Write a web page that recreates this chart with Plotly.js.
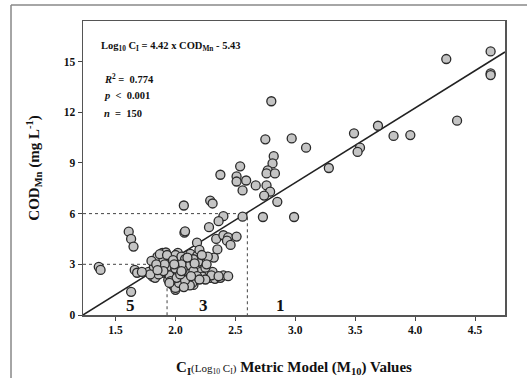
<!DOCTYPE html>
<html>
<head>
<meta charset="utf-8">
<script src="https://cdn.plot.ly/plotly-3.0.1.min.js"></script>
<style>
html,body{margin:0;padding:0;background:#fff;}
#chart{width:527px;height:378px;}
</style>
</head>
<body>
<div id="chart"></div>
<script>
// Observations: CI (Log10 CI) metric model values vs CODMn
const xVals = [
  4.63,4.26,4.63,4.63,4.35,3.69,3.49,3.82,3.96,3.54,3.52,3.28,2.80,2.75,2.97,3.09,2.82,2.81,2.77,2.76,
  2.83,2.67,2.76,2.79,2.74,2.85,2.73,2.99,2.54,2.51,2.51,2.59,2.56,2.375,2.29,2.31,2.07,2.56,2.40,2.36,
  2.28,2.075,2.08,1.61,1.63,1.65,2.18,2.34,2.40,2.44,2.51,2.43,2.46,2.35,2.32,1.36,1.375,1.66,1.68,1.63,
  1.775,1.81,1.85,1.89,1.92,1.82,1.875,1.89,1.83,1.94,1.975,2.0,2.02,2.04,1.975,2.04,2.1,2.09,2.125,2.18,
  2.23,2.19,2.07,1.98,2.11,2.21,2.31,2.225,2.29,2.33,2.375,2.025,2.15,2.14,2.0,2.03,
  1.9,1.95,1.88,1.93,1.97,2.0,2.05,2.08,2.12,2.15,2.0,1.95,2.06,2.1,1.86,1.79,1.72,1.8,1.87,1.93,
  2.02,2.06,2.15,2.25,2.27,2.2,2.26,2.3,2.4,2.44,1.96,2.01,2.12,2.18,1.91,1.84,1.98,2.05,2.1,2.16,
  2.22,1.9,2.0,2.08,1.95,2.25,2.36,2.2,1.85,2.13,1.99,2.04,2.07,2.05
];
const yVals = [
  15.6,15.15,14.3,14.2,11.5,11.2,10.75,10.6,10.65,9.9,9.65,8.7,12.65,10.4,10.45,9.9,9.4,8.97,8.56,8.38,
  8.38,7.67,7.67,7.3,7.07,6.7,5.8,5.8,8.8,8.2,7.9,7.96,7.37,8.3,6.77,6.6,6.48,5.82,5.85,5.55,
  5.2,4.87,4.95,4.93,4.5,4.05,4.28,4.5,4.72,4.6,4.64,4.4,4.15,3.88,3.4,2.85,2.67,2.67,2.5,1.37,
  2.55,2.27,3.45,3.68,3.7,2.86,2.97,2.5,2.2,2.08,1.78,1.49,3.68,3.15,2.55,1.96,3.09,2.55,3.62,3.5,
  3.15,3.15,2.8,2.67,2.43,2.55,2.55,2.27,2.2,2.14,2.2,2.08,1.78,1.9,1.6,1.9,
  3.3,3.1,2.75,2.85,3.4,3.55,3.45,3.3,2.95,3.3,2.9,2.35,2.25,2.1,2.4,2.4,2.55,3.2,3.6,3.55,
  2.5,2.7,2.6,2.8,3.45,3.85,3.0,2.35,2.35,2.3,2.0,2.2,1.75,2.3,3.0,3.0,3.25,3.0,3.4,3.05,
  3.55,2.6,2.75,2.05,1.9,2.1,2.3,2.1,2.65,2.3,3.0,2.4,1.65,2.6
];
// Regression: y = 4.42 x - 5.43
const slope = 4.42;
const intercept = -5.43;
const xMax = 4.75;
// Category thresholds (dotted guides)
const thresholdX = [1.93, 2.6];
const thresholdY = [3, 6];
// Class labels at the bottom
const classLabels = ['5', '3', '1'];
const classLabelX = [1.625, 2.23, 2.875];
const classLabelY = [0.55, 0.55, 0.55];
const xTicks = [1.5, 2.0, 2.5, 3.0, 3.5, 4.0, 4.5];
const yTicks = [0, 3, 6, 9, 12, 15];

const xMin = -intercept / slope;
const lineX = [xMin, xMax];
const lineY = lineX.map(v => slope * v + intercept);

const SERIF = '"Liberation Serif", "Times New Roman", serif';
const traces = [];
// dotted guides
thresholdX.forEach((tx, i) => {
  traces.push({x: [xMin, tx, tx], y: [thresholdY[i], thresholdY[i], 0], mode: 'lines',
    line: {color: '#444', width: 1, dash: 'dot'}, hoverinfo: 'skip', showlegend: false});
});
traces.push({x: lineX, y: lineY, mode: 'lines', line: {color: '#222', width: 1.5},
  hoverinfo: 'skip', showlegend: false});
traces.push({x: xVals, y: yVals, mode: 'markers', showlegend: false,
  marker: {size: 9, color: '#c4c4c4', line: {color: '#2a2a2a', width: 1.3}}});

const annotations = [
  {text: '<b>Log<sub>10</sub> C<sub>I</sub> = 4.42 x COD<sub>Mn</sub> - 5.43</b>', x: 0.038, y: 0.912},
  {text: '<b><i>R</i><sup>2</sup> =  0.774</b>', x: 0.045, y: 0.806},
  {text: '<b><i>p</i>  &lt;  0.001</b>', x: 0.045, y: 0.748},
  {text: '<b><i>n</i>  =  150</b>', x: 0.045, y: 0.687}
].map(a => Object.assign({xref: 'paper', yref: 'paper', xanchor: 'left', yanchor: 'middle',
  showarrow: false, font: {family: SERIF, size: 10.5, color: '#111'}}, a));
classLabels.forEach((t, i) => annotations.push({text: '<b>' + t + '</b>', x: classLabelX[i], y: classLabelY[i],
  xref: 'x', yref: 'y', showarrow: false, yanchor: 'middle',
  font: {family: SERIF, size: 17, color: '#111'}}));

const layout = {
  width: 527, height: 378,
  margin: {l: 83, r: 22, t: 21, b: 63},
  paper_bgcolor: '#fff', plot_bgcolor: '#fff',
  font: {family: SERIF, color: '#111'},
  xaxis: {range: [xMin, xMax], tickvals: xTicks, ticktext: xTicks.map(v => '<b>' + v.toFixed(1) + '</b>'),
    ticks: 'outside', ticklen: 4, tickcolor: '#444', showgrid: false, zeroline: false,
    showline: true, mirror: true, linecolor: '#555', linewidth: 1.5,
    tickfont: {family: SERIF, size: 11.5},
    title: {text: '<b>C<sub>I</sub><span style="font-size:11px;font-weight:normal">(Log<sub>10</sub> C<sub>I</sub>)</span> Metric Model (M<sub>10</sub>) Values</b>',
      font: {family: SERIF, size: 15}, standoff: 26}},
  yaxis: {range: [0, 17.4], tickvals: yTicks, ticktext: yTicks.map(v => '<b>' + v + '</b>'),
    ticks: 'outside', ticklen: 4, tickcolor: '#444', showgrid: false, zeroline: false,
    showline: true, mirror: true, linecolor: '#555', linewidth: 1.5,
    tickfont: {family: SERIF, size: 11.5},
    title: {text: '<b>COD<sub>Mn</sub> (mg L<sup>-1</sup>)</b>', font: {family: SERIF, size: 15}, standoff: 20}},
  annotations: annotations,
  shapes: [
    {type: 'line', xref: 'paper', yref: 'paper', x0: -0.1706, x1: 1.06, y0: 1.0544, y1: 1.0544,
      line: {color: '#888', width: 1.5}},
    {type: 'line', xref: 'paper', yref: 'paper', x0: -0.1706, x1: -0.1706, y0: 1.0544, y1: -0.22,
      line: {color: '#888', width: 1.5}}
  ]
};
Plotly.newPlot('chart', traces, layout, {displayModeBar: false, staticPlot: true});
</script>
</body>
</html>
